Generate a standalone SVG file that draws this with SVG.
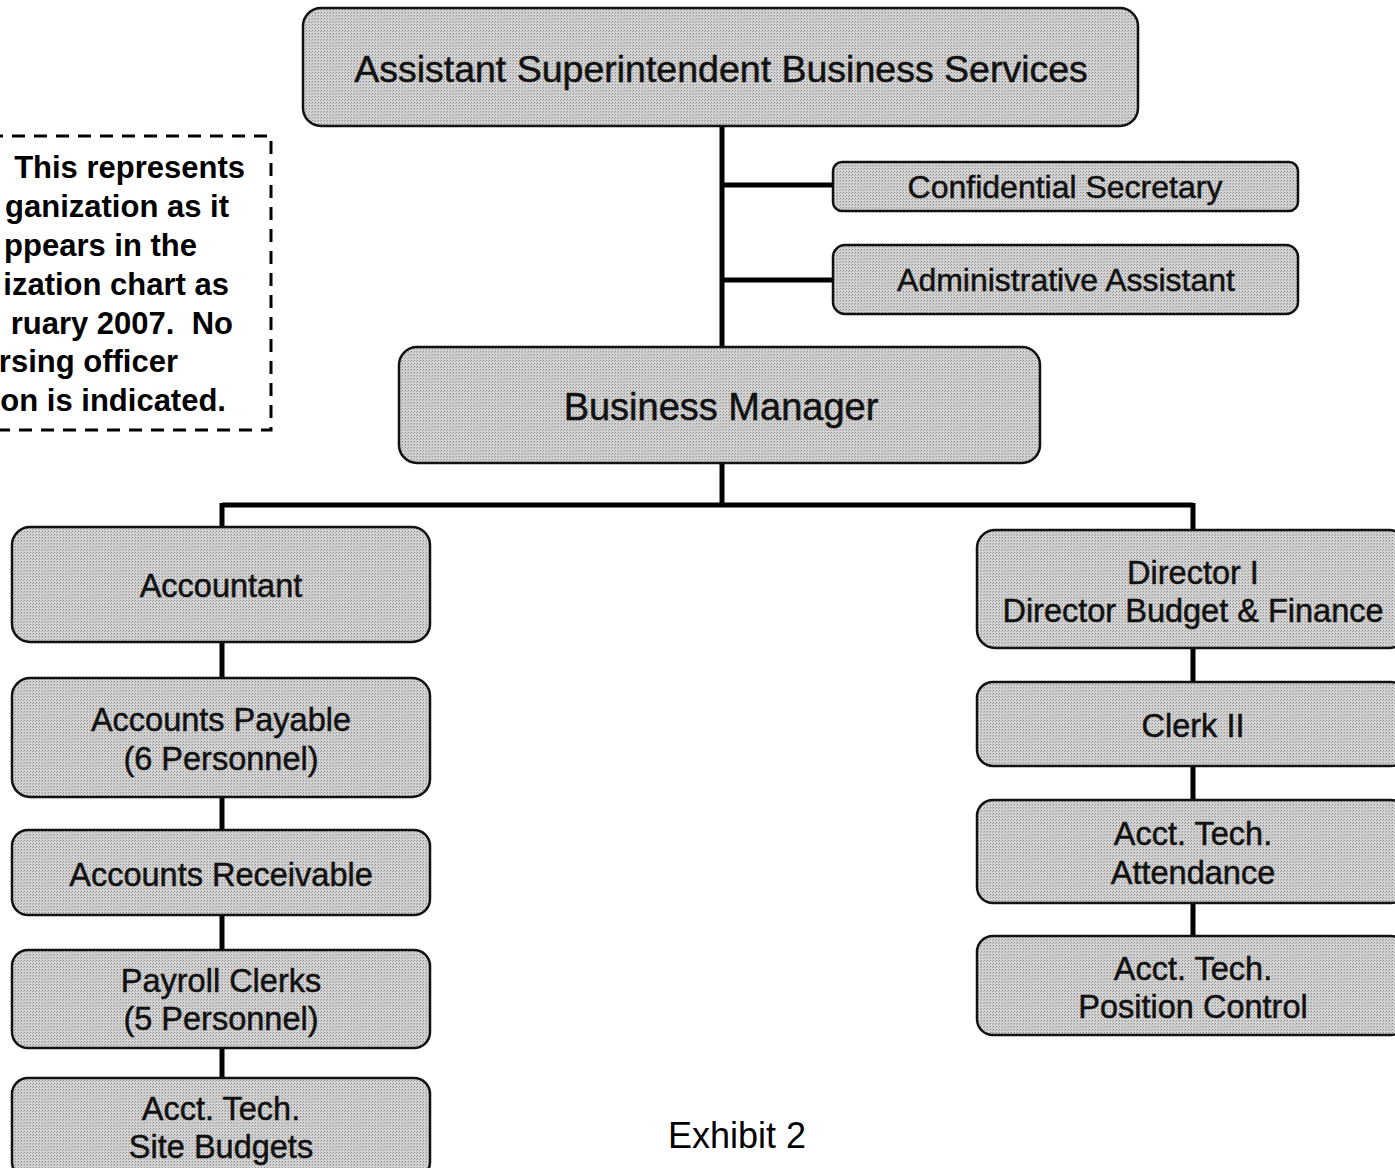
<svg xmlns="http://www.w3.org/2000/svg" width="1395" height="1168" viewBox="0 0 1395 1168">
<defs>
<pattern id="dots" width="3" height="3" patternUnits="userSpaceOnUse">
<rect width="3" height="3" fill="#d4d4d4"/>
<rect width="1" height="1" fill="#8a8a8a"/>
<rect x="2" y="1" width="1" height="1" fill="#a4a4a4"/>
</pattern>
</defs>
<style>
.box{fill:url(#dots);stroke:#111;stroke-width:2.5}
.t{font-family:"Liberation Sans",Arial,sans-serif;fill:#111;text-anchor:middle;stroke:#111;stroke-width:0.5}
.n{font-family:"Liberation Sans",Arial,sans-serif;font-weight:bold;font-size:31px;fill:#000;text-anchor:end}
.c{stroke:#000;stroke-width:5;fill:none}
</style>
<rect width="1395" height="1168" fill="#fff"/>
<g id="connectors">
<path class="c" d="M722 126V348M722 185H833M722 280H833M722 463V505M222 505H1193M222 503V528M1193 503V533M222 642V678M222 797V830M222 915V950M222 1048V1078M1193 648V682M1193 766V800M1193 903V936"/>
</g>
<g id="note">
<path d="M-10 136H271V430H-10" fill="none" stroke="#000" stroke-width="3" stroke-dasharray="13 9"/>
<text class="n" x="245" y="178">This represents</text>
<text class="n" x="229" y="217">ganization as it</text>
<text class="n" x="197" y="256">ppears in the</text>
<text class="n" x="229" y="295">ization chart as</text>
<text class="n" x="233" y="334" xml:space="preserve">ruary 2007.  No</text>
<text class="n" x="178" y="372">rsing officer</text>
<text class="n" x="226" y="411">on is indicated.</text>
</g>
<g id="asst-supt">
<rect class="box" x="303" y="8" width="835" height="118" rx="18"/>
<text class="t" x="721" y="82" font-size="37.5">Assistant Superintendent Business Services</text>
</g>
<g id="conf-sec">
<rect class="box" x="833" y="162" width="465" height="49" rx="9"/>
<text class="t" x="1065" y="198" font-size="32">Confidential Secretary</text>
</g>
<g id="admin-asst">
<rect class="box" x="833" y="245" width="465" height="69" rx="12"/>
<text class="t" x="1066" y="291" font-size="32">Administrative Assistant</text>
</g>
<g id="bus-mgr">
<rect class="box" x="399" y="347" width="641" height="116" rx="18"/>
<text class="t" x="721" y="420" font-size="38">Business Manager</text>
</g>
<g id="accountant">
<rect class="box" x="12" y="527" width="418" height="115" rx="18"/>
<text class="t" x="221" y="597" font-size="32.5">Accountant</text>
</g>
<g id="ap">
<rect class="box" x="12" y="678" width="418" height="119" rx="18"/>
<text class="t" x="221" y="731" font-size="32.5">Accounts Payable</text>
<text class="t" x="221" y="770" font-size="32.5">(6 Personnel)</text>
</g>
<g id="ar">
<rect class="box" x="12" y="830" width="418" height="85" rx="16"/>
<text class="t" x="221" y="886" font-size="32.5">Accounts Receivable</text>
</g>
<g id="payroll">
<rect class="box" x="12" y="950" width="418" height="98" rx="16"/>
<text class="t" x="221" y="992" font-size="32.5">Payroll Clerks</text>
<text class="t" x="221" y="1030" font-size="32.5">(5 Personnel)</text>
</g>
<g id="site-budgets">
<rect class="box" x="12" y="1078" width="418" height="100" rx="16"/>
<text class="t" x="221" y="1120" font-size="32.5">Acct. Tech.</text>
<text class="t" x="221" y="1158" font-size="32.5">Site Budgets</text>
</g>
<g id="director">
<rect class="box" x="977" y="530" width="430" height="118" rx="18"/>
<text class="t" x="1193" y="584" font-size="32.5">Director I</text>
<text class="t" x="1193" y="622" font-size="32.5">Director Budget &amp; Finance</text>
</g>
<g id="clerk2">
<rect class="box" x="977" y="682" width="430" height="84" rx="16"/>
<text class="t" x="1193" y="737" font-size="32.5">Clerk II</text>
</g>
<g id="attendance">
<rect class="box" x="977" y="800" width="430" height="103" rx="16"/>
<text class="t" x="1193" y="845" font-size="32.5">Acct. Tech.</text>
<text class="t" x="1193" y="884" font-size="32.5">Attendance</text>
</g>
<g id="position">
<rect class="box" x="977" y="936" width="430" height="99" rx="16"/>
<text class="t" x="1193" y="980" font-size="32.5">Acct. Tech.</text>
<text class="t" x="1193" y="1018" font-size="32.5">Position Control</text>
</g>
<text x="737" y="1148" font-family="Liberation Sans,Arial,sans-serif" font-size="36" text-anchor="middle" fill="#000">Exhibit 2</text>
</svg>
